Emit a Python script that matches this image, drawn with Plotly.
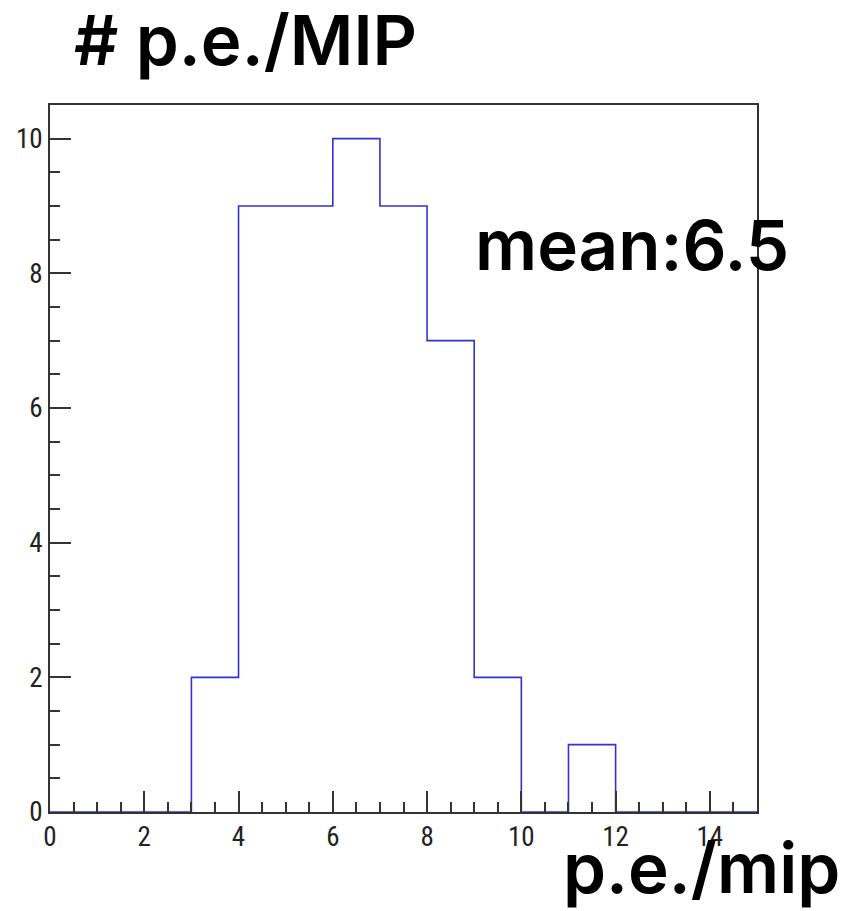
import plotly.graph_objects as go

# Histogram data (bin edges 0..15, width 1)
bin_edges = [0, 1, 2, 3, 4, 5, 6, 7, 8, 9, 10, 11, 12, 13, 14, 15]
counts = [0, 0, 0, 2, 9, 9, 10, 9, 7, 2, 0, 1, 0, 0, 0]

title_text = "# p.e./MIP"
xaxis_text = "p.e./mip"
mean_text = "mean:6.5"
x_ticks = [0, 2, 4, 6, 8, 10, 12, 14]
y_ticks = [0, 2, 4, 6, 8, 10]

W, H = 859, 911
L, R, T, B = 50, 757, 105, 812
pw, ph = R - L, B - T

def px(x):
    return (x - L) / pw

def py(y):
    return (B - y) / ph

fig = go.Figure()
fig.add_trace(go.Scatter(
    x=bin_edges,
    y=counts + [counts[-1]],
    mode="lines",
    line=dict(shape="hv", color="#3333cc", width=1.6),
    hoverinfo="skip",
    showlegend=False,
))

tickfont = dict(family="Roboto Condensed, Liberation Sans, sans-serif", size=27, color="#222222")
axis_common = dict(
    showgrid=False, zeroline=False,
    showline=True, linecolor="#333333", linewidth=2, mirror=True,
    ticks="inside", ticklen=21, tickwidth=1.5, tickcolor="#333333",
    tickfont=tickfont,
)
fig.update_xaxes(
    range=[0, 15], tickmode="array", tickvals=x_ticks,
    minor=dict(dtick=0.5, tick0=0, ticks="inside", ticklen=10, tickwidth=1.5, tickcolor="#333333"),
    **axis_common,
)
fig.update_yaxes(
    range=[0, 10.5], tickmode="array", tickvals=y_ticks,
    minor=dict(dtick=0.5, tick0=0, ticks="inside", ticklen=10, tickwidth=1.5, tickcolor="#333333"),
    **axis_common,
)

bigfont = "Inter, Noto Sans, sans-serif"
fig.add_annotation(text=title_text, xref="paper", yref="paper",
                   x=px(72), y=py(40), xanchor="left", yanchor="middle",
                   showarrow=False, font=dict(family=bigfont, size=69, weight=600, color="black"))
fig.add_annotation(text=mean_text, xref="paper", yref="paper",
                   x=px(473), y=py(245), xanchor="left", yanchor="middle",
                   showarrow=False, font=dict(family=bigfont, size=69, weight=600, color="black"))
fig.add_annotation(text=xaxis_text, xref="paper", yref="paper",
                   x=px(561), y=py(868), xanchor="left", yanchor="middle",
                   showarrow=False, font=dict(family=bigfont, size=69, weight=600, color="black"))

fig.update_layout(
    width=W, height=H,
    margin=dict(l=L, r=W - R, t=T, b=H - B),
    paper_bgcolor="white", plot_bgcolor="white",
    showlegend=False,
)
fig.write_html("out.html", config={"displayModeBar": False},
               post_script="document.body.style.margin='0px';")
